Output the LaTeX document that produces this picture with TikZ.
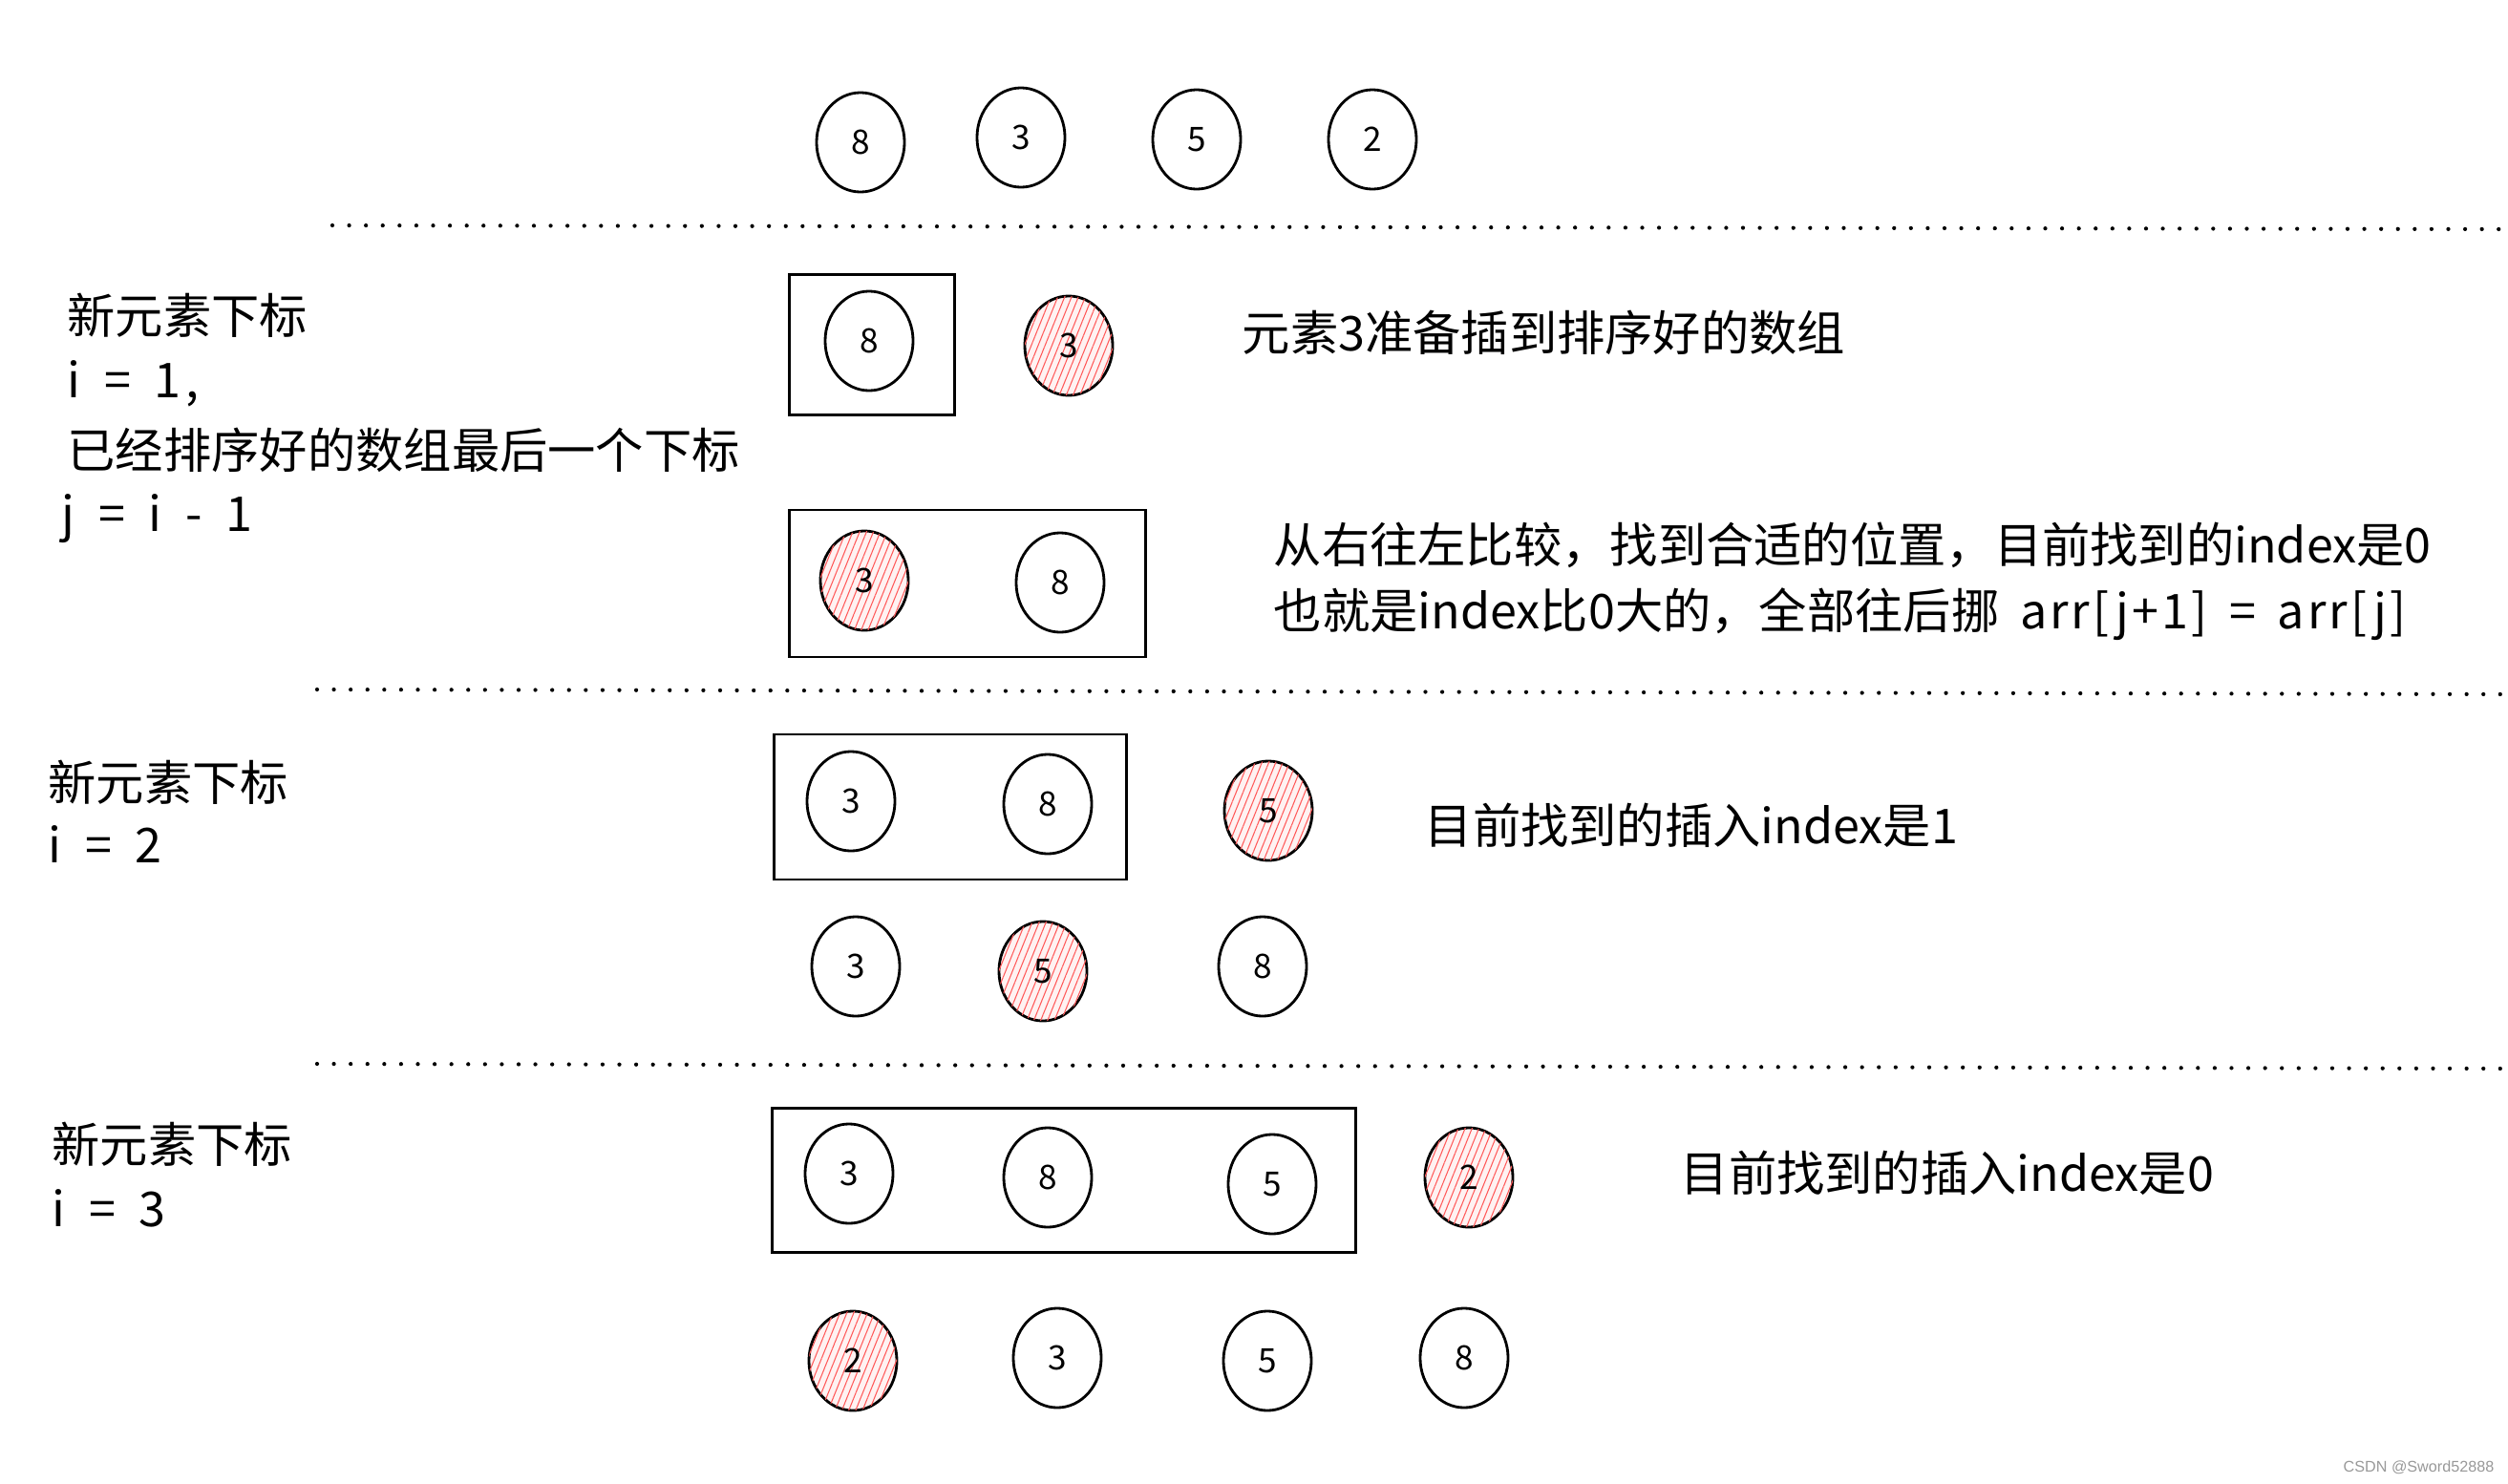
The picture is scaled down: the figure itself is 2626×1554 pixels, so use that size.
\documentclass[tikz,border=0pt]{standalone}
\usepackage{fontspec}
\setmainfont{Noto Sans CJK SC}
\newfontfamily\latin[LetterSpace=10]{Noto Sans CJK SC}
\newfontfamily\latincode[LetterSpace=6]{Noto Sans CJK SC}
\newfontfamily\marksf{Liberation Sans}
\usepackage{tikz}
\usetikzlibrary{shapes.geometric}
\usetikzlibrary{patterns.meta}

\begin{document}
\begin{tikzpicture}[
        x=0.01cm, y=-0.01cm,
        elem/.style={ellipse, draw=black, line width=0.8pt, minimum width=0.92cm, minimum height=1.04cm, inner sep=0pt, font=\fontsize{10}{12}\selectfont},
        newelem/.style={elem, fill=red!5, postaction={pattern={Lines[angle=68, distance=1.9pt, line width=0.3pt]}, pattern color=red!65}},
        group/.style={rectangle, draw=black, line width=0.8pt, inner sep=0pt},
        desc/.style={anchor=west, inner sep=0pt, font=\fontsize{14.3}{17}\selectfont},
        dotline/.style={line width=1.2pt, dash pattern=on 0pt off 5pt, line cap=round}
    ]

    % --- 0. NỀN ---
    \fill[white] (0,0) rectangle (2626,1554);
    \useasboundingbox (0,0) rectangle (2626,1554);

    % --- 1. MẢNG BAN ĐẦU ---
    \node[elem] (a8) at (901,149) {8};
    \node[elem] (a3) at (1069,144) {3};
    \node[elem] (a5) at (1253,146) {5};
    \node[elem] (a2) at (1437,146) {2};

    % --- 2. ĐƯỜNG CHẤM ---
    \coordinate (sepA1) at (348,236);  \coordinate (sepA2) at (2621,240);
    \coordinate (sepB1) at (332,722);  \coordinate (sepB2) at (2621,727);
    \coordinate (sepC1) at (332,1114); \coordinate (sepC2) at (2621,1119);
    \draw[dotline] (sepA1) -- (sepA2);
    \draw[dotline] (sepB1) -- (sepB2);
    \draw[dotline] (sepC1) -- (sepC2);

    % --- 3. i = 1 ---
    \node[desc] (s1t1) at (70,330) {新元素下标};
    \node[desc] (s1t2) at (70,402) {\latin i \,=\, 1,};
    \node[desc] (s1t3) at (70,471) {已经排序好的数组最后一个下标};
    \node[desc] (s1t4) at (64,543) {\latin j \,=\, i \,-\, 1};

    \node[group, minimum width=1.73cm, minimum height=1.47cm] (box1) at (913,361) {};
    \node[elem] (b8) at (910,357) {8};
    \node[newelem] (b3) at (1119,362) {3};
    \node[desc] (s1n1) at (1300,348) {元素3准备插到排序好的数组};

    \node[group, minimum width=3.72cm, minimum height=1.54cm] (box2) at (1013,611) {};
    \node[newelem] (c3) at (905,608) {3};
    \node[elem] (c8) at (1110,610) {8};
    \node[desc] (s1n2) at (1333,571) {从右往左比较，找到合适的位置，目前找到的index是0};
    \node[desc] (s1n3) at (1333,643) {也就是index比0大的，全部往后挪\hspace{3pt} {\latincode arr[j+1] \,=\, arr[j]}};

    % --- 4. i = 2 ---
    \node[desc] (s2t1) at (50,819) {新元素下标};
    \node[desc] (s2t2) at (50,884) {\latin i \,=\, 2};

    \node[group, minimum width=3.68cm, minimum height=1.52cm] (box3) at (995,845) {};
    \node[elem] (d3) at (891,839) {3};
    \node[elem] (d8) at (1097,842) {8};
    \node[newelem] (d5) at (1328,849) {5};
    \node[desc] (s2n1) at (1491,864) {目前找到的插入index是1};

    \node[elem] (e3) at (896,1012) {3};
    \node[newelem] (e5) at (1092,1017) {5};
    \node[elem] (e8) at (1322,1012) {8};

    % --- 5. i = 3 ---
    \node[desc] (s3t1) at (54,1198) {新元素下标};
    \node[desc] (s3t2) at (54,1265) {\latin i \,=\, 3};

    \node[group, minimum width=6.11cm, minimum height=1.51cm] (box4) at (1114,1236) {};
    \node[elem] (f3) at (889,1229) {3};
    \node[elem] (f8) at (1097,1233) {8};
    \node[elem] (f5) at (1332,1240) {5};
    \node[newelem] (f2) at (1538,1233) {2};
    \node[desc] (s3n1) at (1759,1228) {目前找到的插入index是0};

    \node[newelem] (g2) at (893,1425) {2};
    \node[elem] (g3) at (1107,1422) {3};
    \node[elem] (g5) at (1327,1425) {5};
    \node[elem] (g8) at (1533,1422) {8};

    % --- 6. WATERMARK ---
    \node[anchor=east, inner sep=0pt, text=gray!80, font=\marksf\fontsize{4.6}{5}\selectfont] (mark) at (2612,1537) {CSDN @Sword52888};

\end{tikzpicture}
\end{document}
